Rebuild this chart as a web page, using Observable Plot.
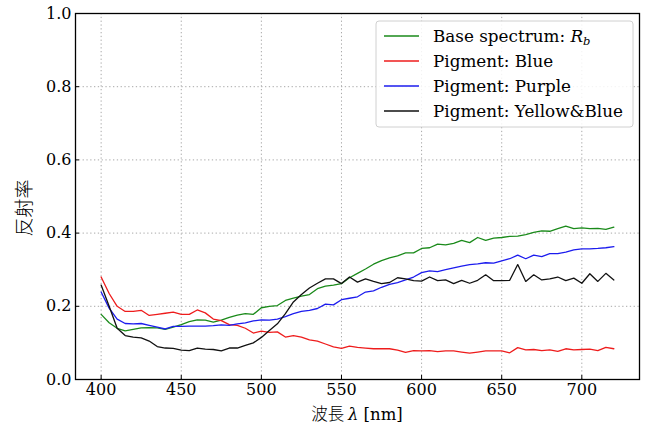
<!DOCTYPE html>
<html><head><meta charset="utf-8">
<script src="https://cdn.jsdelivr.net/npm/d3@7"></script>
<script src="https://cdn.jsdelivr.net/npm/@observablehq/plot@0.6"></script>
<style>body{margin:0;background:#fff}</style>
</head><body><div id="chart"></div>
<script>
const wavelengths = [400,405,410,415,420,425,430,435,440,445,450,455,460,465,470,475,480,485,490,495,500,505,510,515,520,525,530,535,540,545,550,555,560,565,570,575,580,585,590,595,600,605,610,615,620,625,630,635,640,645,650,655,660,665,670,675,680,685,690,695,700,705,710,715,720];
const baseSpectrum = [0.178,0.155,0.140,0.133,0.137,0.141,0.142,0.141,0.137,0.143,0.150,0.158,0.163,0.162,0.157,0.162,0.170,0.176,0.180,0.178,0.196,0.200,0.202,0.216,0.222,0.228,0.232,0.248,0.255,0.258,0.262,0.278,0.290,0.302,0.315,0.325,0.332,0.338,0.346,0.346,0.358,0.360,0.370,0.368,0.372,0.380,0.374,0.388,0.380,0.386,0.388,0.391,0.392,0.396,0.402,0.406,0.405,0.412,0.419,0.412,0.414,0.412,0.413,0.410,0.416];
const pigmentBlue = [0.280,0.235,0.200,0.186,0.186,0.189,0.175,0.178,0.181,0.184,0.178,0.178,0.190,0.182,0.165,0.161,0.150,0.148,0.140,0.127,0.132,0.129,0.130,0.116,0.120,0.116,0.108,0.105,0.097,0.089,0.085,0.091,0.088,0.086,0.084,0.084,0.084,0.080,0.074,0.079,0.078,0.079,0.076,0.078,0.078,0.075,0.072,0.075,0.078,0.078,0.078,0.073,0.087,0.081,0.082,0.079,0.081,0.077,0.084,0.081,0.082,0.083,0.079,0.088,0.084];
const pigmentPurple = [0.239,0.195,0.165,0.153,0.152,0.153,0.148,0.143,0.138,0.145,0.145,0.146,0.146,0.146,0.147,0.149,0.148,0.152,0.155,0.160,0.163,0.162,0.165,0.172,0.180,0.186,0.189,0.194,0.206,0.204,0.218,0.222,0.226,0.239,0.242,0.252,0.260,0.265,0.272,0.280,0.292,0.297,0.295,0.300,0.305,0.310,0.314,0.316,0.319,0.318,0.324,0.330,0.340,0.330,0.340,0.336,0.344,0.344,0.348,0.354,0.357,0.357,0.358,0.360,0.363];
const pigmentYellowBlue = [0.258,0.200,0.140,0.120,0.116,0.114,0.105,0.090,0.086,0.085,0.080,0.079,0.086,0.083,0.082,0.078,0.086,0.086,0.093,0.100,0.115,0.134,0.152,0.180,0.212,0.232,0.250,0.263,0.275,0.275,0.262,0.280,0.266,0.275,0.268,0.262,0.265,0.278,0.275,0.270,0.269,0.280,0.270,0.272,0.262,0.271,0.263,0.271,0.286,0.270,0.270,0.271,0.314,0.268,0.286,0.272,0.275,0.280,0.270,0.277,0.263,0.289,0.268,0.290,0.272];

const seriesNames = ["Base spectrum", "Pigment: Blue", "Pigment: Purple", "Pigment: Yellow&Blue"];
const seriesColors = ["#1a8a1a", "#ee1c1c", "#1c1cee", "#111111"];
const seriesValues = [baseSpectrum, pigmentBlue, pigmentPurple, pigmentYellowBlue];
const xTicks = [400, 450, 500, 550, 600, 650, 700];
const yTicks = [0, 0.2, 0.4, 0.6, 0.8, 1.0];
const yTickLabels = ["0.0", "0.2", "0.4", "0.6", "0.8", "1.0"];
const xDomain = [384, 736];
const yDomain = [0, 1];
const xLabel = "波長";
const yLabel = "反射率";

const data = [];
seriesValues.forEach((vals, i) => vals.forEach((v, j) => data.push({series: seriesNames[i], wl: wavelengths[j], r: v})));

const W = 648, H = 430, mL = 75, mR = 9, mT = 13, mB = 51;
const serif = "'DejaVu Serif', 'Noto Sans CJK JP', serif";

const plot = Plot.plot({
  width: W, height: H,
  marginLeft: mL, marginRight: mR, marginTop: mT, marginBottom: mB,
  style: {fontFamily: serif, fontSize: "16px", background: "white", color: "black"},
  x: {domain: xDomain},
  y: {domain: yDomain},
  color: {domain: seriesNames, range: seriesColors},
  marks: [
    Plot.gridX(xTicks, {stroke: "#a8a8a8", strokeOpacity: 1, strokeWidth: 1, strokeDasharray: "1.3,2.5"}),
    Plot.gridY(yTicks, {stroke: "#a8a8a8", strokeOpacity: 1, strokeWidth: 1, strokeDasharray: "1.3,2.5"}),
    Plot.line(data, {x: "wl", y: "r", z: "series", stroke: "series", strokeWidth: 1.3}),
    Plot.frame({stroke: "black", strokeWidth: 1.3}),
    Plot.axisX(xTicks, {tickSize: -4, tickPadding: 8, label: null, fontSize: 16}),
    Plot.axisY(yTicks, {tickSize: -4, tickPadding: 8, label: null, fontSize: 16, tickFormat: (d) => yTickLabels[yTicks.indexOf(d)]})
  ]
});
document.getElementById("chart").appendChild(plot);

const svg = d3.select(plot);
const cx = mL + (W - mL - mR) / 2;
const cy = mT + (H - mT - mB) / 2;
// x axis title
const xt = svg.append("text").attr("x", cx).attr("y", 420).attr("text-anchor", "middle")
  .attr("font-family", serif).attr("font-size", 16.5).attr("fill", "black");
xt.append("tspan").attr("font-family", "'Noto Sans CJK JP', sans-serif").attr("font-weight", 300).text(xLabel + " ");
xt.append("tspan").attr("font-style", "italic").text("λ");
xt.append("tspan").text(" [nm]");
// y axis title
svg.append("text").attr("transform", `translate(31,${cy + 12}) rotate(-90)`).attr("text-anchor", "middle")
  .attr("font-family", "'Noto Sans CJK JP', sans-serif").attr("font-weight", 300).attr("font-size", 19).attr("fill", "black").text(yLabel);

// legend
const lg = svg.append("g").attr("text-anchor", "start");
lg.append("rect").attr("x", 376).attr("y", 21).attr("width", 257).attr("height", 106).attr("rx", 3)
  .attr("fill", "white").attr("fill-opacity", 0.85).attr("stroke", "#d0d0d0");
seriesNames.forEach((name, i) => {
  const y = 36 + i * 25;
  lg.append("line").attr("x1", 384).attr("x2", 419).attr("y1", y).attr("y2", y)
    .attr("stroke", seriesColors[i]).attr("stroke-width", 1.3);
  const t = lg.append("text").attr("x", 433).attr("y", y + 6).attr("text-anchor", "start")
    .attr("font-family", serif).attr("font-size", 16.8).attr("fill", "black");
  if (i === 0) {
    t.append("tspan").text(name + ": ");
    t.append("tspan").attr("font-style", "italic").text("R");
    t.append("tspan").attr("font-style", "italic").attr("font-size", 11.5).attr("dy", 3).text("b");
  } else {
    t.text(name);
  }
});
</script>
</body></html>
